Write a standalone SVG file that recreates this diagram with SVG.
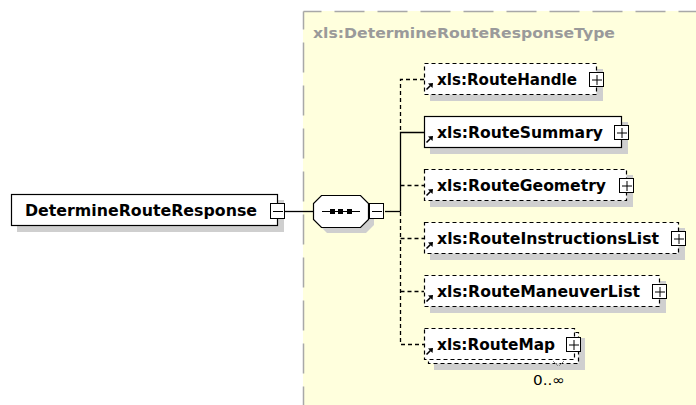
<svg xmlns="http://www.w3.org/2000/svg" xmlns:xlink="http://www.w3.org/1999/xlink" width="696" height="405" viewBox="0 0 696 405">
  <style>
    .lbl { font-family: "DejaVu Sans", Verdana, sans-serif; font-weight: bold; font-size: 15px; fill: #000; }
    .hdr { font-family: "DejaVu Sans", Verdana, sans-serif; font-weight: bold; font-size: 14px; fill: #9a9a9a; }
    .card { font-family: "DejaVu Sans", Verdana, sans-serif; font-size: 14px; fill: #000; }
    .box { fill: #fff; stroke: #000; stroke-width: 1.2; }
    .opt { stroke-dasharray: 4 3; }
    .shadow { fill: #cfcfcf; }
    .wire { fill: none; stroke: #000; stroke-width: 1.3; }
    .wire.opt { stroke-dasharray: 4 3; }
    .btn { fill: #fff; stroke: #000; stroke-width: 1; }
    .sign { stroke: #000; stroke-width: 1; fill: none; }
  </style>
  <defs>
    <!-- reference arrow drawn at the lower-left corner of each element box -->
    <g id="ref">
      <path d="M0.5,6.5 L4.5,2.5" stroke="#000" stroke-width="1.6" fill="none"/>
      <path d="M7,0 L2,0.5 L6.5,5 Z" fill="#000"/>
    </g>
    <!-- expand button -->
    <g id="plus">
      <rect class="btn" x="0.5" y="0.5" width="14" height="14"/>
      <path class="sign" d="M3,8 H13 M8,3 V13"/>
    </g>
    <!-- collapse button -->
    <g id="minus">
      <rect class="btn" x="0.5" y="0.5" width="14" height="15"/>
      <path class="sign" d="M3,8.5 H13"/>
    </g>
  </defs>

  <!-- complex type area -->
  <g id="type-area">
    <rect x="303" y="11" width="393" height="394" fill="#ffffdd"/>
    <path d="M303.5,11.5 H696 M303.5,11.5 V405" fill="none" stroke="#a8a8a8" stroke-width="1.5" stroke-dasharray="30 13" stroke-dashoffset="12"/>
    <text class="hdr" x="313" y="38" textLength="302" lengthAdjust="spacingAndGlyphs">xls:DetermineRouteResponseType</text>
  </g>

  <!-- connectors -->
  <g id="connectors">
    <path class="wire" d="M285,211.5 H313"/>
    <path class="wire" d="M385,211.5 H400.5"/>
    <path class="wire" d="M400.5,211.5 V132.5 H424"/>
    <path class="wire opt" d="M424,79.5 H400.5 V132"/>
    <path class="wire opt" d="M400.5,212 V344.5 H424"/>
    <path class="wire opt" d="M400.5,185.5 H424"/>
    <path class="wire opt" d="M400.5,238.5 H424"/>
    <path class="wire opt" d="M400.5,291.5 H424"/>
  </g>

  <!-- root element -->
  <g id="DetermineRouteResponse">
    <rect class="shadow" x="17" y="200" width="267" height="32"/>
    <rect class="box" x="11.5" y="194.5" width="266" height="31" stroke-width="1.5"/>
    <text class="lbl" x="25" y="216" font-size="16" textLength="232" lengthAdjust="spacingAndGlyphs">DetermineRouteResponse</text>
    <use xlink:href="#minus" x="270" y="203"/>
  </g>

  <!-- sequence compositor -->
  <g id="sequence">
    <polygon class="shadow" points="327,201 366,201 374,209 374,225 366,233 327,233 319,225 319,209"/>
    <polygon points="321.5,195.5 360.5,195.5 368.5,203.5 368.5,219.5 360.5,227.5 321.5,227.5 313.5,219.5 313.5,203.5" fill="#fff" stroke="#000" stroke-width="1.2"/>
    <path d="M322,211.5 H360" stroke="#000" stroke-width="1.2"/>
    <rect x="330" y="209" width="5" height="5" fill="#000"/>
    <rect x="338" y="209" width="5" height="5" fill="#000"/>
    <rect x="347" y="209" width="5" height="5" fill="#000"/>
    <use xlink:href="#minus" x="369" y="203"/>
  </g>

  <!-- child elements -->
  <g id="RouteHandle">
    <rect class="shadow" x="430" y="69" width="173" height="32"/>
    <rect class="box opt" x="424.5" y="63.5" width="172" height="31"/>
    <text class="lbl" x="437" y="85" textLength="140" lengthAdjust="spacingAndGlyphs">xls:RouteHandle</text>
    <use xlink:href="#ref" x="426" y="83"/>
    <use xlink:href="#plus" x="589" y="72"/>
  </g>

  <g id="RouteSummary">
    <rect class="shadow" x="430" y="122" width="198" height="32"/>
    <rect class="box" x="424.5" y="116.5" width="197" height="31"/>
    <text class="lbl" x="437" y="138" textLength="166" lengthAdjust="spacingAndGlyphs">xls:RouteSummary</text>
    <use xlink:href="#ref" x="426" y="136"/>
    <use xlink:href="#plus" x="614" y="125"/>
  </g>

  <g id="RouteGeometry">
    <rect class="shadow" x="430" y="175" width="203" height="32"/>
    <rect class="box opt" x="424.5" y="169.5" width="202" height="31"/>
    <text class="lbl" x="437" y="191" textLength="169" lengthAdjust="spacingAndGlyphs">xls:RouteGeometry</text>
    <use xlink:href="#ref" x="426" y="189"/>
    <use xlink:href="#plus" x="619" y="178"/>
  </g>

  <g id="RouteInstructionsList">
    <rect class="shadow" x="430" y="228" width="255" height="32"/>
    <rect class="box opt" x="424.5" y="222.5" width="254" height="31"/>
    <text class="lbl" x="437" y="244" textLength="222" lengthAdjust="spacingAndGlyphs">xls:RouteInstructionsList</text>
    <use xlink:href="#ref" x="426" y="242"/>
    <use xlink:href="#plus" x="671" y="231"/>
  </g>

  <g id="RouteManeuverList">
    <rect class="shadow" x="430" y="281" width="236" height="32"/>
    <rect class="box opt" x="424.5" y="275.5" width="235" height="31"/>
    <text class="lbl" x="437" y="297" textLength="203" lengthAdjust="spacingAndGlyphs">xls:RouteManeuverList</text>
    <use xlink:href="#ref" x="426" y="295"/>
    <use xlink:href="#plus" x="652" y="284"/>
  </g>

  <g id="RouteMap">
    <rect class="shadow" x="434" y="338" width="151" height="32"/>
    <rect class="box opt" x="428.5" y="332.5" width="150" height="31"/>
    <rect class="box opt" x="424.5" y="328.5" width="150" height="31"/>
    <text class="lbl" x="437" y="350" textLength="118" lengthAdjust="spacingAndGlyphs">xls:RouteMap</text>
    <use xlink:href="#ref" x="426" y="348"/>
    <use xlink:href="#plus" x="566" y="337"/>
    <path d="M553,361 L558,366 M559,366 L564,361" stroke="#888" stroke-width="1" fill="none"/>
    <text class="card" x="533" y="385" textLength="32" lengthAdjust="spacingAndGlyphs">0..∞</text>
  </g>
</svg>
